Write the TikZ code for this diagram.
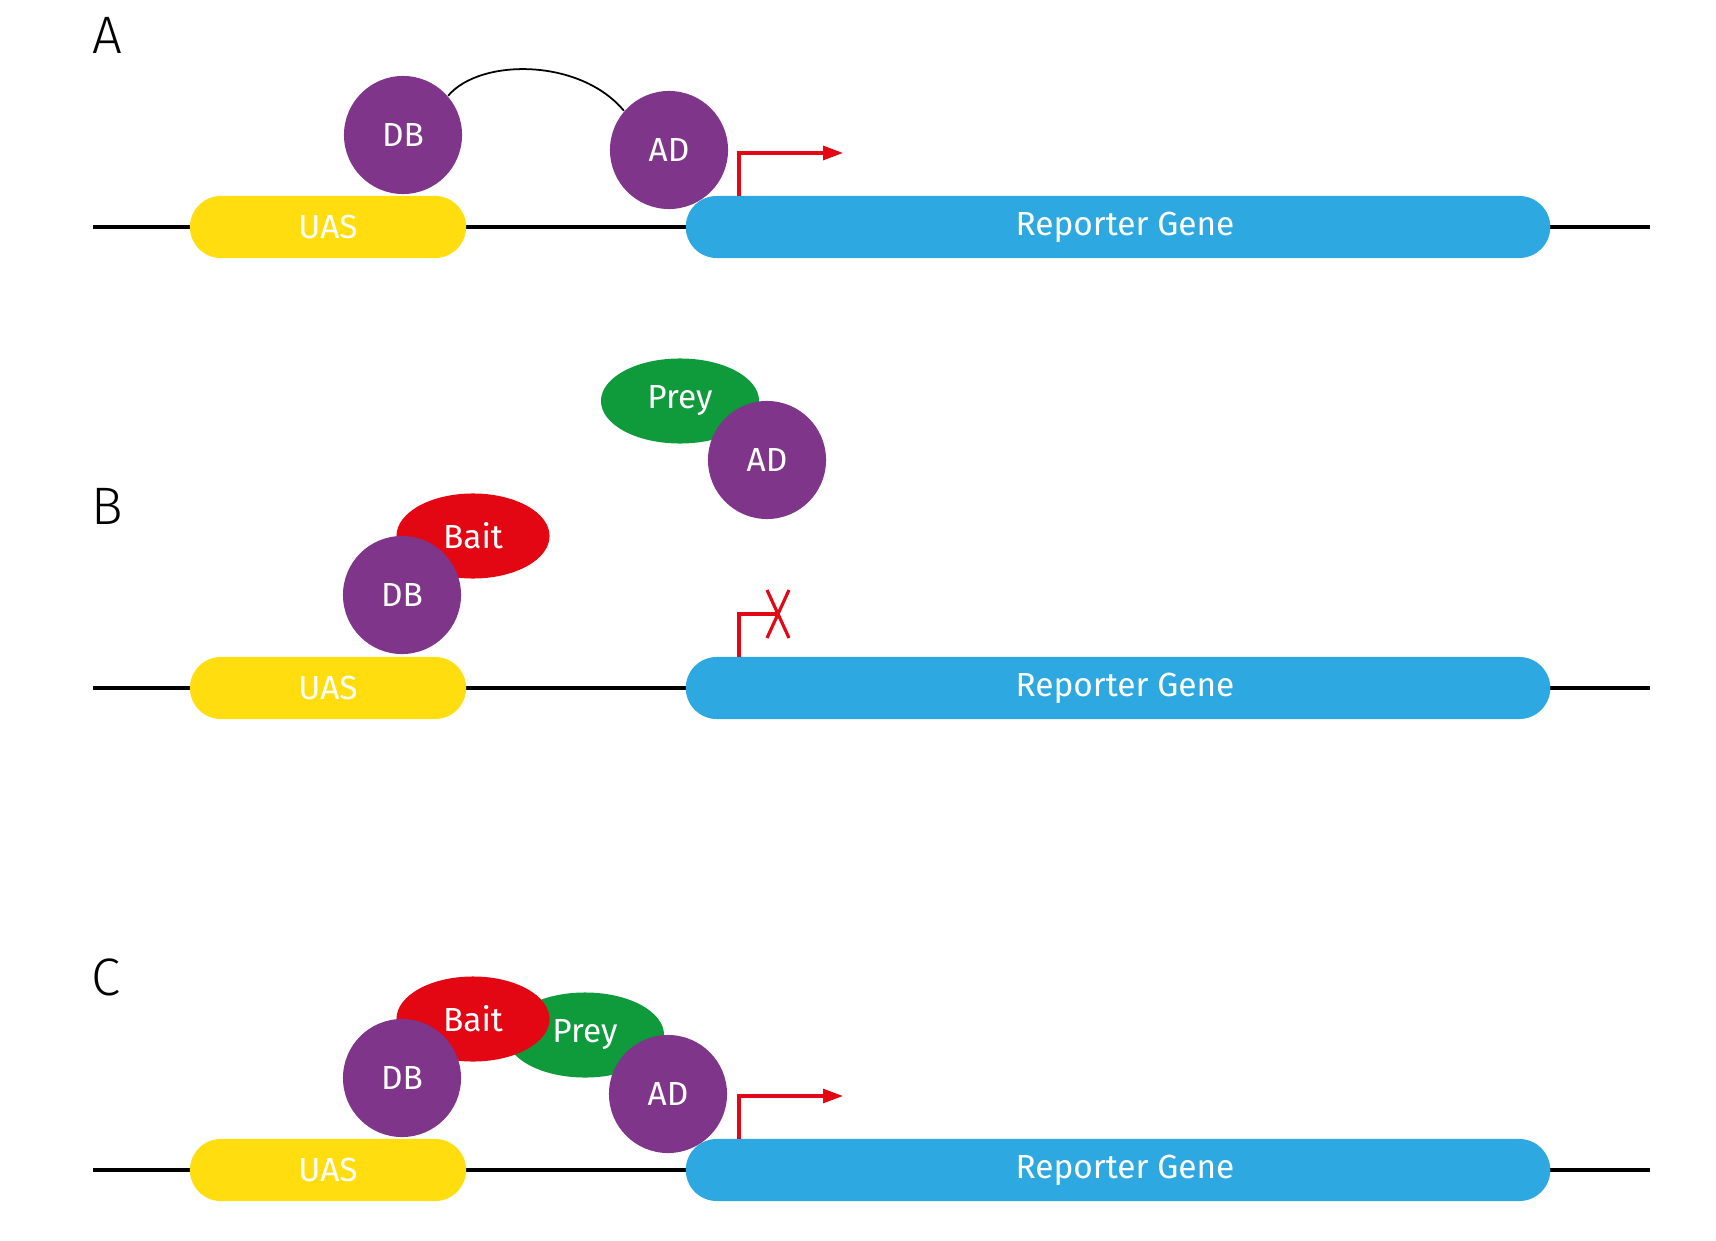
\documentclass[tikz,border=0pt]{standalone}
\usepackage{fontspec}
\setmainfont{Fira Sans}
\newfontfamily\panelfont{Fira Sans Light}
\usepackage{xcolor}
\definecolor{dbpurple}{HTML}{7F3589}
\definecolor{uasyellow}{HTML}{FFDD0F}
\definecolor{repblue}{HTML}{2EA8E0}
\definecolor{preygreen}{HTML}{0F9A3C}
\definecolor{baitred}{HTML}{E30613}
\usepackage{tikz}
\usetikzlibrary{positioning,arrows.meta,shapes.geometric}

\tikzset{
  lbl/.style={font=\fontsize{9.5}{11}\selectfont,text=white,inner sep=0pt},
  protein/.style={lbl,circle,fill=dbpurple,minimum size=1.18cm},
  gene/.style={lbl,rectangle,rounded corners=0.31cm,minimum height=0.62cm},
  uas/.style={gene,fill=uasyellow,minimum width=2.76cm},
  reporter/.style={gene,fill=repblue,minimum width=8.64cm},
  bait/.style={lbl,ellipse,fill=baitred,minimum width=1.53cm,minimum height=0.85cm},
  prey/.style={lbl,ellipse,fill=preygreen,minimum width=1.58cm,minimum height=0.85cm},
  dna/.style={line width=1pt},
  promoter/.style={baitred,line width=0.9pt},
  panel/.style={font=\panelfont\fontsize{15}{18}\selectfont,inner sep=0pt}
}
\newcommand{\reptext}{\hspace*{0.14cm}Reporter Gene}

\begin{document}
\begin{tikzpicture}[x=0.01cm,y=-0.01cm]
\useasboundingbox (0,0) rectangle (1716,1240);

%%% A: DB and AD joined
\node[panel] (labA) at (107,35) {A};
\coordinate (dnaAl) at (93,227);
\coordinate (dnaAr) at (1650,227);
\draw[dna] (dnaAl) -- (dnaAr);
\node[uas] (uasA) at (328,227) {UAS};
\node[reporter] (repA) at (1118,227) {\reptext};
\node[protein] (dbA) at (403,135) {DB};
\node[protein] (adA) at (669,150) {AD};
\draw[line width=0.5pt] (dbA.41) .. controls (480,58) and (580,58) .. (adA.139);
\coordinate (tssA) at (739,196);
\coordinate (tipA) at (843,153);
\draw[promoter,-{Triangle[length=0.2cm,width=0.14cm]}] (tssA) |- (tipA);

%%% B: bait and prey apart
\node[panel] (labB) at (107,506) {B};
\coordinate (dnaBl) at (93,688);
\coordinate (dnaBr) at (1650,688);
\draw[dna] (dnaBl) -- (dnaBr);
\node[uas] (uasB) at (328,688) {UAS};
\node[reporter] (repB) at (1118,688) {\reptext};
\node[bait] (baitB) at (473,536) {Bait};
\node[protein] (dbB) at (402,595) {DB};
\node[prey] (preyB) at (680,401) {Prey};
\node[protein] (adB) at (767,460) {AD};
\coordinate (tssB) at (739,657);
\coordinate (tipB) at (778,614);
\draw[promoter] (tssB) |- (tipB);
\draw[promoter] (767,590) -- (789,638) (789,590) -- (767,638);

%%% C: bait binds prey
\node[panel] (labC) at (106,977) {C};
\coordinate (dnaCl) at (93,1170);
\coordinate (dnaCr) at (1650,1170);
\draw[dna] (dnaCl) -- (dnaCr);
\node[uas] (uasC) at (328,1170) {UAS};
\node[reporter] (repC) at (1118,1170) {\reptext};
\node[prey] (preyC) at (585,1035) {Prey};
\node[bait] (baitC) at (473,1019) {Bait};
\node[protein] (dbC) at (402,1078) {DB};
\node[protein] (adC) at (668,1094) {AD};
\coordinate (tssC) at (739,1139);
\coordinate (tipC) at (843,1096);
\draw[promoter,-{Triangle[length=0.2cm,width=0.14cm]}] (tssC) |- (tipC);

\end{tikzpicture}
\end{document}
